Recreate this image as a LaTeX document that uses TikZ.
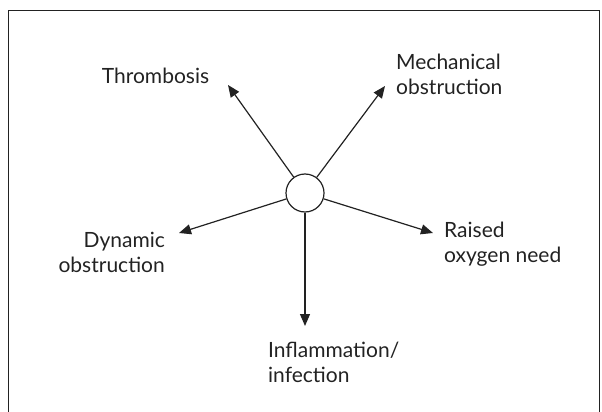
\documentclass[tikz,border=0pt]{standalone}
\usepackage{fontspec}
\setmainfont{Lato}
\usetikzlibrary{arrows.meta}
\definecolor{ink}{HTML}{222222}
\tikzset{
  lbl/.style={inner sep=0pt, text=ink, font=\fontsize{21}{25}\selectfont},
  arr/.style={line width=1.2pt, draw=ink, -{Triangle[length=12pt,width=10pt]}},
  hub/.style={circle, draw=ink, line width=1.2pt, minimum size=38pt, inner sep=0pt, fill=white}
}
\begin{document}
\begin{tikzpicture}[x=1pt,y=-1pt]
\useasboundingbox (0,0) rectangle (602,412);
\draw[line width=1pt, draw=ink] (8.5,412) -- (8.5,10.7) -- (599,10.7) -- (599,412);
\node[hub] (c) at (305,193) {};
\coordinate (tT) at (228,85);
\coordinate (tM) at (385,86);
\coordinate (tD) at (179,233);
\coordinate (tR) at (433,233);
\coordinate (tI) at (305,326);
\draw[arr] (c) -- (tT);
\draw[arr] (c) -- (tM);
\draw[arr] (c) -- (tD);
\draw[arr] (c) -- (tR);
\draw[arr] (c) -- (tI);
\node[lbl] (thr) at (155.5,76) {Thrombosis};
\node[lbl, align=left, anchor=west] (mech) at (396,74.5) {Mechanical\\obstruction};
\node[lbl, align=right, anchor=east] (dyn) at (165,252) {Dynamic\\obstruction};
\node[lbl, align=left, anchor=west] (rai) at (444,244.5) {Raised\\oxygen need};
\node[lbl, align=left, anchor=west] (inf) at (268,362.5) {Inflammation/\\infection};
\end{tikzpicture}
\end{document}
